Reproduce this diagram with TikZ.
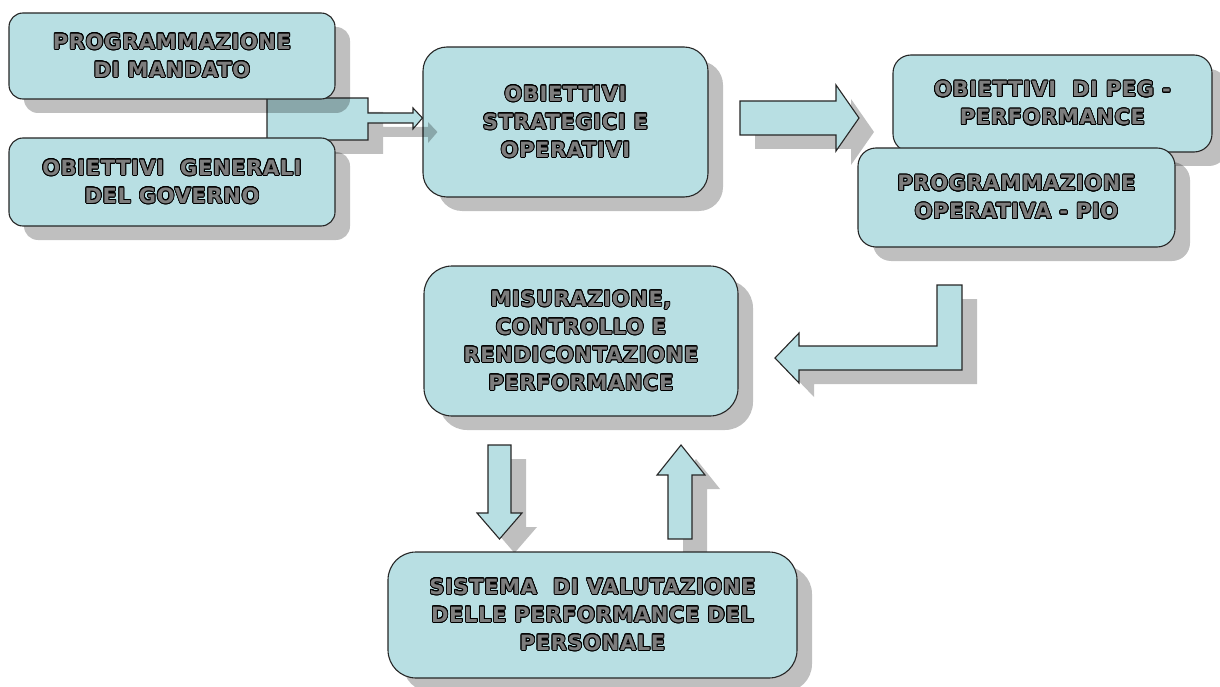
\documentclass[tikz,border=0pt]{standalone}
\usepackage{fontspec}
\setmainfont{DejaVu Sans}[LetterSpace=3]
\usepackage{contour}
\contourlength{0.85pt}
\contournumber{20}
\usetikzlibrary{shadows}
\definecolor{boxfill}{RGB}{184,223,227}
\definecolor{txtgray}{RGB}{125,125,125}
\newcommand\otext[1]{\contour{black}{#1}}
\tikzset{
  shad/.style={drop shadow={shadow xshift=15pt,shadow yshift=-14pt,fill=black,opacity=.25}},
  box/.style={shad,draw=black!85,line width=1.1pt,fill=boxfill,align=center,
    text=txtgray,font=\fontsize{21}{28}\selectfont\bfseries,inner sep=0pt},
  blockarrow/.style={shad,draw=black!85,line width=1.1pt,fill=boxfill,line join=miter}
}
\begin{document}
\begin{tikzpicture}[x=1pt,y=-1pt]
\useasboundingbox (0,0) rectangle (1220,687);
% box 3
\node[box,minimum width=285pt,minimum height=150pt,rounded corners=24pt] (b3) at (565.5,122)
  {\otext{OBIETTIVI}\\\otext{STRATEGICI E}\\\otext{OPERATIVI}};
% bracket arrow
\draw[blockarrow] (267,98) -- (368,98) -- (368,113) -- (413,113) -- (413,108) -- (b3.west |- 0,118)
  -- (413,129) -- (413,123) -- (368,123) -- (368,140) -- (267,140) -- cycle;
\node[box,minimum width=326pt,minimum height=86pt,rounded corners=14pt] (b1) at (172,56)
  {\otext{PROGRAMMAZIONE}\\\otext{DI MANDATO}};
\node[box,minimum width=326pt,minimum height=88pt,rounded corners=14pt] (b2) at (172,182)
  {\otext{OBIETTIVI\ \ GENERALI}\\\otext{DEL GOVERNO}};
% right arrow
\draw[blockarrow] (740,101) -- (836,101) -- (836,85) -- (859,118) -- (836,151) -- (836,135) -- (740,135) -- cycle;
\node[box,minimum width=319pt,minimum height=97pt,rounded corners=18pt] (b4) at (1052.5,103.5)
  {\otext{OBIETTIVI\ \ DI PEG -}\\\otext{PERFORMANCE}};
\node[box,minimum width=317pt,minimum height=99pt,rounded corners=18pt] (b5) at (1016.5,197.5)
  {\otext{PROGRAMMAZIONE}\\\otext{OPERATIVA - PIO}};
% L arrow
\draw[blockarrow] (937,285) -- (962,285) -- (962,370) -- (799,370) -- (799,383) -- (775,358)
  -- (799,333) -- (799,346) -- (937,346) -- cycle;
\node[box,minimum width=314pt,minimum height=150pt,rounded corners=28pt] (b6) at (581,341)
  {\otext{MISURAZIONE,}\\\otext{CONTROLLO E}\\\otext{RENDICONTAZIONE}\\\otext{PERFORMANCE}};
% down / up arrows
\draw[blockarrow] (488,445) -- (511,445) -- (511,513) -- (522,513) -- (499.5,539) -- (477,513) -- (488,513) -- cycle;
\draw[blockarrow] (668,539) -- (668,475) -- (657,475) -- (681,445) -- (705,475) -- (692,475) -- (692,539) -- cycle;
\node[box,minimum width=409pt,minimum height=126pt,rounded corners=28pt] (b7) at (592.5,615)
  {\otext{SISTEMA\ \ DI VALUTAZIONE}\\\otext{DELLE PERFORMANCE DEL}\\\otext{PERSONALE}};
\end{tikzpicture}
\end{document}
